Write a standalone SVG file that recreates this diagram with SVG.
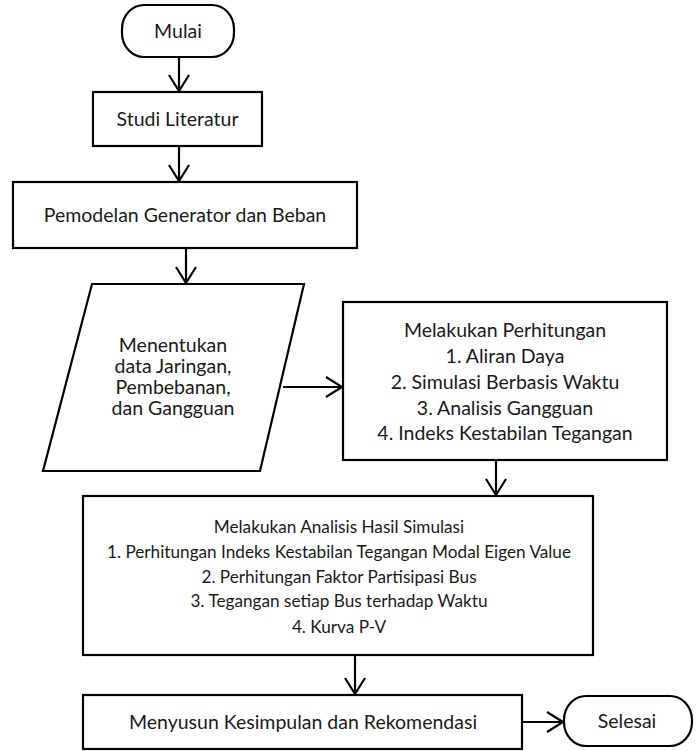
<svg xmlns="http://www.w3.org/2000/svg" width="700" height="751" viewBox="0 0 700 751">
<style>
.s{fill:#fff;stroke:#000;stroke-width:2.2}
.t{font-family:Lato,"Liberation Sans",sans-serif;font-size:19.5px;fill:#1a1a1a;text-anchor:middle}
.sm{font-size:17.2px}
.c{fill:none;stroke:#000;stroke-width:2.2}
</style>
<defs>
<marker id="a" markerUnits="userSpaceOnUse" markerWidth="24" markerHeight="24" viewBox="-20 -12 24 24" refX="0" refY="0" orient="auto">
<path d="M-16,-10 L0,0 L-16,10" fill="none" stroke="#000" stroke-width="2.2"/>
</marker>
</defs>
<rect width="700" height="751" fill="#fff"/>
<g id="connectors">
<line class="c" x1="179" y1="57" x2="179" y2="91" marker-end="url(#a)"/>
<line class="c" x1="179" y1="146" x2="179" y2="181" marker-end="url(#a)"/>
<line class="c" x1="186" y1="248" x2="186" y2="283" marker-end="url(#a)"/>
<line class="c" x1="283" y1="387" x2="342" y2="387" marker-end="url(#a)"/>
<line class="c" x1="496" y1="460" x2="496" y2="495" marker-end="url(#a)"/>
<line class="c" x1="355" y1="655" x2="355" y2="694" marker-end="url(#a)"/>
<line class="c" x1="522" y1="722" x2="563" y2="722" marker-end="url(#a)"/>
</g>
<g id="mulai">
<rect class="s" x="122" y="5" width="112" height="52" rx="22" ry="24"/>
<text class="t" x="178" y="38">Mulai</text>
</g>
<g id="studi">
<rect class="s" x="93" y="92" width="169" height="54"/>
<text class="t" x="177.5" y="126">Studi Literatur</text>
</g>
<g id="pemodelan">
<rect class="s" x="13" y="182" width="344" height="66"/>
<text class="t" x="185" y="222">Pemodelan Generator dan Beban</text>
</g>
<g id="data">
<polygon class="s" points="92,284 304,284 260,471 43,471"/>
<text class="t" x="173" y="352">Menentukan</text>
<text class="t" x="173" y="373">data Jaringan,</text>
<text class="t" x="173" y="394">Pembebanan,</text>
<text class="t" x="173" y="415">dan Gangguan</text>
</g>
<g id="perhitungan">
<rect class="s" x="343" y="302" width="324" height="158"/>
<text class="t" x="505" y="337">Melakukan Perhitungan</text>
<text class="t" x="505" y="363">1. Aliran Daya</text>
<text class="t" x="505" y="389">2. Simulasi Berbasis Waktu</text>
<text class="t" x="505" y="415">3. Analisis Gangguan</text>
<text class="t" x="505" y="440">4. Indeks Kestabilan Tegangan</text>
</g>
<g id="analisis">
<rect class="s" x="83" y="496" width="510" height="159"/>
<text class="t sm" x="339" y="533">Melakukan Analisis Hasil Simulasi</text>
<text class="t sm" x="339" y="558">1. Perhitungan Indeks Kestabilan Tegangan Modal Eigen Value</text>
<text class="t sm" x="339" y="583">2. Perhitungan Faktor Partisipasi Bus</text>
<text class="t sm" x="339" y="607">3. Tegangan setiap Bus terhadap Waktu</text>
<text class="t sm" x="339" y="633">4. Kurva P-V</text>
</g>
<g id="menyusun">
<rect class="s" x="83" y="695" width="439" height="54"/>
<text class="t" x="303" y="729">Menyusun Kesimpulan dan Rekomendasi</text>
</g>
<g id="selesai">
<rect class="s" x="564" y="696" width="128" height="50" rx="22" ry="24"/>
<text class="t" x="627" y="728">Selesai</text>
</g>
</svg>
